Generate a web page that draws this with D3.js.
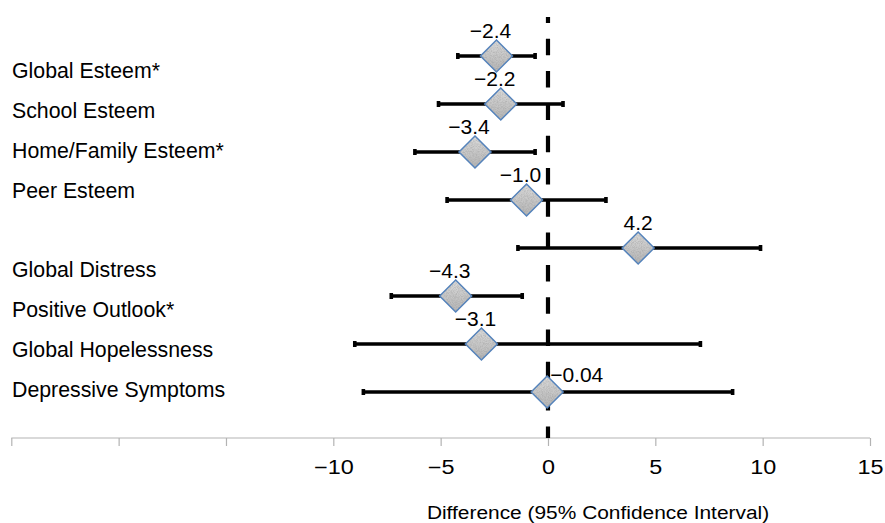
<!DOCTYPE html>
<html>
<head>
<meta charset="utf-8">
<script src="https://cdn.jsdelivr.net/npm/d3@7"></script>
<style>
  html, body { margin: 0; padding: 0; background: #fff; }
  svg { display: block; font-family: "Liberation Sans", Arial, Helvetica, sans-serif; }
</style>
</head>
<body>
<svg id="chart" width="885" height="523"></svg>
<script>
// ---- data ----
const categories = ["Global Esteem*", "School Esteem", "Home/Family Esteem*", "Peer Esteem",
                    "Global Distress", "Positive Outlook*", "Global Hopelessness", "Depressive Symptoms"];
const estimates = [-2.4, -2.2, -3.4, -1.0, 4.2, -4.3, -3.1, -0.04];
const lowerCI   = [-4.2, -5.1, -6.2, -4.7, -1.4, -7.3, -9.0, -8.6];
const upperCI   = [-0.6,  0.7, -0.6,  2.7,  9.9, -1.2,  7.1,  8.6];
const valueLabels = ["\u22122.4", "\u22122.2", "\u22123.4", "\u22121.0", "4.2", "\u22124.3", "\u22123.1", "\u22120.04"];
const xTicks = [-25, -20, -15, -10, -5, 0, 5, 10, 15];
const xTickLabels = ["", "", "", "\u221210", "\u22125", "0", "5", "10", "15"];
const xTitle = "Difference (95% Confidence Interval)";

// category label column has a blank slot between the esteem and distress groups
const labelRows = [...categories.slice(0, 4), "", ...categories.slice(4)];

const svg = d3.select("#chart");
const x = d3.scaleLinear().domain([-25, 15]).range([11.3, 870]);
const y = d3.scalePoint().domain(categories).range([56, 392]);
const yLab = d3.scalePoint().domain(d3.range(labelRows.length)).range([78, 397]);

// defs: grainy gray fill for diamonds
const defs = svg.append("defs");
const grad = defs.append("linearGradient").attr("id", "dg").attr("x1", 0).attr("y1", 0).attr("x2", 0).attr("y2", 1);
grad.append("stop").attr("offset", "0%").attr("stop-color", "#dcdcdc");
grad.append("stop").attr("offset", "100%").attr("stop-color", "#b4b4b4");
const f = defs.append("filter").attr("id", "grain").attr("x", 0).attr("y", 0).attr("width", 1).attr("height", 1);
f.append("feTurbulence").attr("type", "fractalNoise").attr("baseFrequency", 1.2).attr("numOctaves", 2).attr("seed", 3).attr("result", "noise");
f.append("feColorMatrix").attr("in", "noise").attr("type", "matrix")
  .attr("values", "0 0 0 0 0.3  0 0 0 0 0.3  0 0 0 0 0.3  0 0 0 -1.0 0.65").attr("result", "dark");
f.append("feComposite").attr("in", "dark").attr("in2", "SourceAlpha").attr("operator", "in").attr("result", "darkIn");
f.append("feMerge").call(m => { m.append("feMergeNode").attr("in", "SourceGraphic"); m.append("feMergeNode").attr("in", "darkIn"); });

// axis
const axisY = 438;
const axis = d3.axisBottom(x).tickValues(xTicks).tickSize(8).tickFormat((d, i) => xTickLabels[i]);
const gAxis = svg.append("g").attr("transform", `translate(0,${axisY})`).call(axis);
gAxis.select(".domain").attr("stroke", "#b3b3b3").attr("stroke-width", 1.2).attr("d", `M${x(-25)},0H${x(15)}`);
gAxis.selectAll(".tick line").attr("stroke", "#b3b3b3").attr("stroke-width", 1.2);
gAxis.selectAll(".tick text")
  .attr("y", 0).attr("dy", 0)
  .attr("fill", "#000")
  .style("font-size", "19.5px")
  .attr("font-family", null)
  .attr("transform", "translate(0,36) scale(1.2,1)");

// axis title
svg.append("text")
  .attr("transform", `translate(598,519) scale(1.1,1)`)
  .attr("text-anchor", "middle")
  .style("font-size", "19px")
  .text(xTitle);

// category labels
svg.append("g").selectAll("text")
  .data(labelRows)
  .join("text")
  .attr("x", 12)
  .attr("y", (d, i) => yLab(i))
  .style("font-size", "21.3px")
  .text(d => d);

// zero reference line (dashed)
svg.append("line")
  .attr("x1", x(0)).attr("x2", x(0))
  .attr("y1", 17).attr("y2", axisY)
  .attr("stroke", "#000").attr("stroke-width", 4.2)
  .attr("stroke-dasharray", "16.5,15.8").attr("stroke-dashoffset", 10.5);

// confidence intervals
const rows = categories.map((c, i) => ({ c, est: estimates[i], lo: lowerCI[i], hi: upperCI[i], lab: valueLabels[i] }));
const gRows = svg.append("g").selectAll("g").data(rows).join("g");
gRows.append("line")
  .attr("x1", d => x(d.lo)).attr("x2", d => x(d.hi))
  .attr("y1", d => y(d.c)).attr("y2", d => y(d.c))
  .attr("stroke", "#000").attr("stroke-width", 3.4);
gRows.selectAll("rect.cap")
  .data(d => [{ v: d.lo, c: d.c }, { v: d.hi, c: d.c }])
  .join("rect").attr("class", "cap")
  .attr("x", d => x(d.v) - 1.8).attr("y", d => y(d.c) - 3)
  .attr("width", 3.6).attr("height", 6)
  .attr("fill", "#000");

// diamonds
const r = 16;
const diamondPath = d => {
  const cx = x(d.est), cy = y(d.c);
  return `M${cx},${cy - r}L${cx + r},${cy}L${cx},${cy + r}L${cx - r},${cy}Z`;
};
gRows.append("path").attr("d", diamondPath).attr("fill", "url(#dg)").attr("filter", "url(#grain)");
gRows.append("path").attr("d", diamondPath).attr("fill", "none").attr("stroke", "#5583bb").attr("stroke-width", 1.5);

// value labels
gRows.append("text")
  .attr("x", d => Math.abs(d.est) < 0.5 ? x(d.est) + 3 : x(d.est) + (d.est < 0 ? -6 : 0))
  .attr("y", d => Math.abs(d.est) < 0.5 ? y(d.c) - 10 : y(d.c) - 18)
  .attr("text-anchor", d => Math.abs(d.est) < 0.5 ? "start" : "middle")
  .style("font-size", "21px")
  .text(d => d.lab);
</script>
</body>
</html>
